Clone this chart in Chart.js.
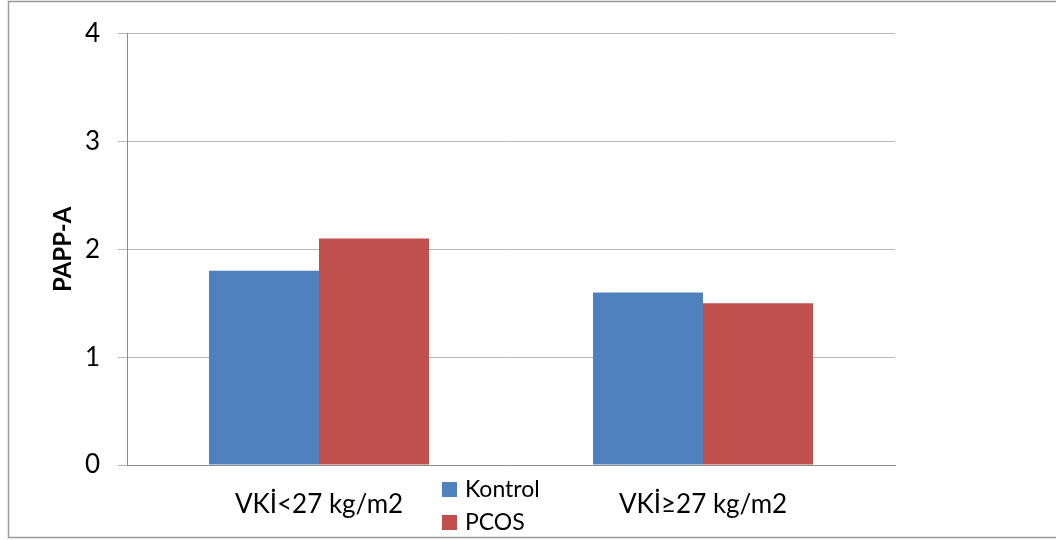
<!DOCTYPE html>
<html>
<head>
<meta charset="utf-8">
<script src="https://cdn.jsdelivr.net/npm/chart.js"></script>
<style>
  html, body { margin: 0; padding: 0; background: #fff; }
  #wrap { width: 1056px; height: 540px; position: relative; }
</style>
</head>
<body>
<div id="wrap"><canvas id="myChart" width="1056" height="540"></canvas></div>
<script>
// chart data
const categories = ['VKİ<27 kg/m2', 'VKİ≥27 kg/m2'];
const seriesNames = ['Kontrol', 'PCOS'];
const kontrolValues = [1.8, 1.6];
const pcosValues = [2.1, 1.5];
const yTicks = [0, 1, 2, 3, 4];
const colors = ['#4F81BD', '#C0504D'];

const FONT = 'Lato, "Open Sans", sans-serif';

// frame round the whole picture (right edge falls off the image)
const framePlugin = {
  id: 'frame',
  afterDraw(chart) {
    const c = chart.ctx;
    c.save();
    c.strokeStyle = '#9a9a9a';
    c.lineWidth = 1.5;
    c.beginPath();
    c.moveTo(1056, 1.5); c.lineTo(8.5, 1.5); c.lineTo(8.5, 537.5); c.lineTo(1056, 537.5);
    c.stroke();
    c.restore();
  }
};

// legend sits between the two category labels
const legendPlugin = {
  id: 'midLegend',
  afterDraw(chart) {
    const c = chart.ctx;
    c.save();
    c.font = '23px ' + FONT;
    c.textBaseline = 'middle';
    c.fillStyle = '#000';
    const rows = [489, 522];
    chart.data.datasets.forEach((ds, i) => {
      c.fillStyle = ds.backgroundColor;
      c.fillRect(442, rows[i] - 7, 15, 15);
      c.fillStyle = '#000';
      c.fillText(ds.label, 465, rows[i] + 1);
    });
    c.restore();
  }
};

const ctx = document.getElementById('myChart');
new Chart(ctx, {
  type: 'bar',
  data: {
    labels: categories,
    datasets: [
      { label: seriesNames[0], data: kontrolValues, backgroundColor: colors[0] },
      { label: seriesNames[1], data: pcosValues, backgroundColor: colors[1] }
    ]
  },
  options: {
    responsive: false,
    animation: false,
    devicePixelRatio: 1,
    layout: { padding: { left: 0, right: 161, top: 32, bottom: 0 } },
    plugins: { legend: { display: false }, tooltip: { enabled: false } },
    datasets: { bar: { categoryPercentage: 0.573, barPercentage: 1.0 } },
    scales: {
      x: {
        grid: { display: false, drawTicks: false },
        border: { display: true, color: '#8c8c8c', width: 1 },
        ticks: { color: '#000', font: { family: FONT, size: 26 }, padding: 24, maxRotation: 0 },
        afterFit(scale) { scale.height = 75; }
      },
      y: {
        min: 0,
        max: 4,
        afterBuildTicks(scale) { scale.ticks = yTicks.map(v => ({ value: v })); },
        grid: { color: '#b5b5b5', lineWidth: 1, tickLength: 9, drawTicks: true },
        border: { display: true, color: '#8c8c8c', width: 1 },
        ticks: { color: '#000', font: { family: FONT, size: 26 }, padding: 18 },
        title: {
          display: true,
          text: 'PAPP-A',
          color: '#000',
          font: { family: FONT, size: 24, weight: 'bold' },
          padding: { top: 49, bottom: 0 }
        },
        afterFit(scale) { scale.width = 127; }
      }
    }
  },
  plugins: [framePlugin, legendPlugin]
});
</script>
</body>
</html>
